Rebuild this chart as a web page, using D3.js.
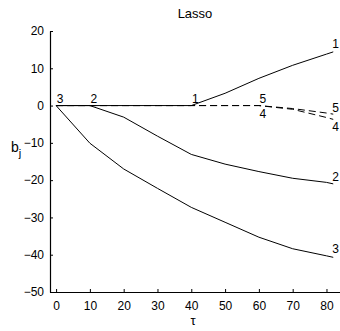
<!DOCTYPE html>
<html>
<head>
<meta charset="utf-8">
<script src="https://cdn.jsdelivr.net/npm/d3@7"></script>
<style>
  html, body { margin: 0; padding: 0; background: #fff; }
  svg { display: block; font-family: "Liberation Sans", Arial, sans-serif; }
</style>
</head>
<body>
<svg id="chart" width="340" height="331"></svg>
<script>
// Lasso coefficient paths b_j as functions of the bound tau
const tau = [0, 10, 20, 30, 40, 50, 60, 70, 80, 82];
const coef1 = [0, 0, 0, 0, 0, 3.3, 7.3, 10.8, 13.8, 14.4];
const coef2 = [0, 0, -3.1, -8.2, -13.1, -15.7, -17.7, -19.5, -20.6, -21.0];
const coef3 = [0, -10.1, -17.0, -22.2, -27.3, -31.3, -35.3, -38.4, -40.3, -40.7];
const coef4 = [0, 0, 0, 0, 0, 0, 0, -1.0, -3.2, -3.7];
const coef5 = [0, 0, 0, 0, 0, 0, 0, -0.8, -2.0, -2.3];
const xTicks = [0, 10, 20, 30, 40, 50, 60, 70, 80];
const yTicks = [20, 10, 0, -10, -20, -30, -40, -50];

// Series: values and dash style
const series = [
  { name: "1", values: coef1, dashed: false },
  { name: "2", values: coef2, dashed: false },
  { name: "3", values: coef3, dashed: false },
  { name: "4", values: coef4, dashed: true },
  { name: "5", values: coef5, dashed: true }
];

const svg = d3.select("#chart");
const m = { left: 50, right: 340, top: 31, bottom: 292 };

const x = d3.scaleLinear().domain([-1.8, 84]).range([m.left, m.right]);
const y = d3.scaleLinear().domain([-50, 20]).range([m.bottom, m.top]);

// axes: inward ticks, left and bottom only
const xAxis = d3.axisBottom(x).tickValues(xTicks).tickSizeInner(-3).tickSizeOuter(0).tickPadding(9);
const yAxis = d3.axisLeft(y).tickValues(yTicks).tickSizeInner(-3).tickSizeOuter(0).tickPadding(6)
  .tickFormat(d => d < 0 ? "\u2212" + Math.abs(d) : String(d));

const gx = svg.append("g").attr("transform", `translate(0,${m.bottom})`).call(xAxis);
const gy = svg.append("g").attr("transform", `translate(${m.left},0)`).call(yAxis);
[gx, gy].forEach(g => {
  g.select(".domain").attr("stroke", "#000").attr("stroke-width", 1.2);
  g.selectAll(".tick line").attr("stroke", "#000");
  g.selectAll(".tick text").attr("fill", "#000").attr("font-size", 12)
    .attr("font-family", "'Liberation Sans', Arial, sans-serif");
});

// coefficient paths
const line = d3.line().x((d, i) => x(tau[i])).y(d => y(d));
series.forEach(s => {
  svg.append("path")
    .datum(s.values)
    .attr("fill", "none")
    .attr("stroke", "#000")
    .attr("stroke-width", 1)
    .attr("stroke-dasharray", s.dashed ? "7,4" : null)
    .attr("d", line);
});

// labels where each variable enters the model
const enterLabels = [
  { name: "3", t: 0,  dy: -3 },
  { name: "2", t: 10, dy: -3 },
  { name: "1", t: 40, dy: -3 },
  { name: "5", t: 60, dy: -3 },
  { name: "4", t: 60, dy: 12 }
];
enterLabels.forEach(l => {
  svg.append("text")
    .attr("x", x(l.t) + 4)
    .attr("y", y(0) + l.dy)
    .attr("text-anchor", "middle")
    .attr("font-size", 12)
    .text(l.name);
});

// labels at the end of each path
const endOffsets = { "1": -4, "2": -3, "3": -4, "5": -2, "4": 12 };
series.forEach(s => {
  const last = s.values[s.values.length - 1];
  svg.append("text")
    .attr("x", x(tau[tau.length - 1]) - 1)
    .attr("y", y(last) + endOffsets[s.name])
    .attr("font-size", 12)
    .text(s.name);
});

// title and axis labels
svg.append("text").attr("x", 195).attr("y", 18).attr("text-anchor", "middle")
  .attr("font-size", 13).text("Lasso");

const yl = svg.append("text").attr("x", 11).attr("y", 152).attr("font-size", 14);
yl.append("tspan").text("b");
yl.append("tspan").attr("font-size", 11).attr("dy", 5).text("j");

svg.append("text").attr("x", 193).attr("y", 325).attr("text-anchor", "middle")
  .attr("font-size", 13).text("\u03c4");
</script>
</body>
</html>
